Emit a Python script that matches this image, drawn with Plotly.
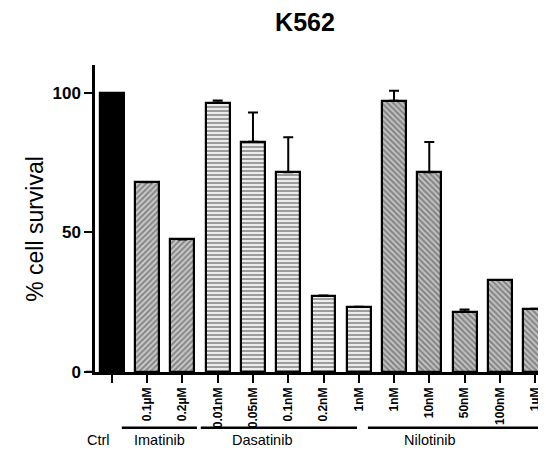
import plotly.graph_objects as go

# ---- data ----
tick_labels = ["", "0.1µM", "0.2µM",
               "0.01nM", "0.05nM", "0.1nM", "0.2nM", "1nM",
               "1nM", "10nM", "50nM", "100nM", "1µM"]
bar_groups = ["Ctrl", "Imatinib", "Imatinib",
              "Dasatinib", "Dasatinib", "Dasatinib", "Dasatinib", "Dasatinib",
              "Nilotinib", "Nilotinib", "Nilotinib", "Nilotinib", "Nilotinib"]
survival = [100, 68, 47.5, 96.5, 82.5, 71.6, 27.4, 23.4, 97.2, 71.6, 21.6, 33, 22.7]
error_up = [None, None, None, 0.8, 10.5, 12.5, None, None, 3.6, 10.8, 0.8, None, None]

group_names = ["Ctrl", "Imatinib", "Dasatinib", "Nilotinib"]

# ---- styles ----
group_style = {
    "Ctrl": dict(color="black", shape="", fg="black"),
    "Imatinib": dict(color="#cfcfcf", shape="/", fg="#5a5a5a"),
    "Dasatinib": dict(color="#f4f4f4", shape="-", fg="#7c7c7c"),
    "Nilotinib": dict(color="#c8c8c8", shape="\\", fg="#555555"),
}
label_x = {"Ctrl": -0.37, "Imatinib": 1.36, "Dasatinib": 4.26, "Nilotinib": 9.02}
line_span = {"Imatinib": (0.28, 2.41), "Dasatinib": (2.52, 6.95), "Nilotinib": (7.26, 13.0)}

x = list(range(len(survival)))
colors = [group_style[g]["color"] for g in bar_groups]
shapes_p = [group_style[g]["shape"] for g in bar_groups]
fgs = [group_style[g]["fg"] for g in bar_groups]

FONT = "Liberation Sans, Arial, sans-serif"

# page body has an 8px default margin; figure is sized to fit the 546x450 window
W, H = 538, 442

fig = go.Figure()
fig.add_trace(go.Bar(
    x=x, y=survival, width=0.68,
    marker=dict(color=colors, line=dict(color="black", width=2.2),
                pattern=dict(shape=shapes_p, fgcolor=fgs, size=4, solidity=0.55)),
    error_y=dict(type="data", symmetric=False, array=error_up,
                 arrayminus=[0 if e is not None else None for e in error_up],
                 color="black", thickness=2, width=5),
    showlegend=False,
))

fig.update_layout(
    width=W, height=H,
    margin=dict(l=87, r=0, t=57, b=78, autoexpand=False),
    paper_bgcolor="white", plot_bgcolor="white",
    bargap=0,
    title=dict(text="<b>K562</b>", x=0.552, xanchor="center", y=1 - 14 / H, yanchor="middle",
               font=dict(family=FONT, size=25, color="black")),
    xaxis=dict(range=[-0.48, 12.31], tickvals=x, ticktext=tick_labels, tickangle=-90,
               tickfont=dict(family=FONT, size=12, color="black", weight="bold"),
               showline=True, linecolor="black", linewidth=2.5, automargin=False,
               ticks="outside", ticklen=8, tickwidth=2, tickcolor="black",
               showgrid=False, zeroline=False, fixedrange=True),
    yaxis=dict(range=[0, 110], tickvals=[0, 50, 100],
               tickfont=dict(family=FONT, size=17, color="black", weight="bold"),
               showline=True, linecolor="black", linewidth=2.5, automargin=False,
               ticks="outside", ticklen=8, tickwidth=2, tickcolor="black",
               showgrid=False, zeroline=False, fixedrange=True),
)

# axis title
fig.add_annotation(text="% cell survival", xref="paper", yref="paper",
                   x=-0.165, y=0.465, textangle=-90, showarrow=False,
                   font=dict(family=FONT, size=23, color="black"))

# x-axis line extension left of y axis
fig.add_shape(type="line", xref="paper", yref="y", x0=-0.02, x1=0, y0=0, y1=0,
              line=dict(color="black", width=2.5))

# group lines and labels
for g in group_names:
    fig.add_annotation(text=g, xref="x", yref="paper", x=label_x[g], y=-0.222,
                       showarrow=False, xanchor="center", yanchor="middle",
                       font=dict(family=FONT, size=14.5, color="black"))
    if g in line_span:
        a, b = line_span[g]
        fig.add_shape(type="line", xref="x", yref="paper", x0=a, x1=b,
                      y0=-0.182, y1=-0.182, line=dict(color="black", width=2.5))

fig.write_html("out.html")
